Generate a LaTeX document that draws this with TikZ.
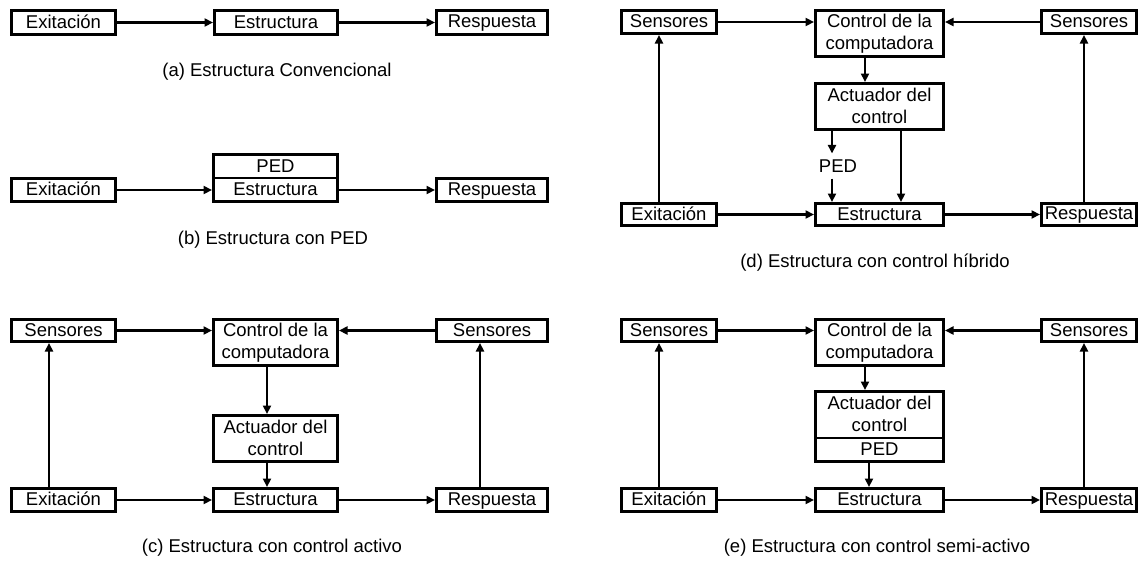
\documentclass[tikz,border=0pt]{standalone}
\usepackage{fontspec}
\setmainfont{Liberation Sans}
\usetikzlibrary{arrows.meta}
\newcommand{\topstr}{\rule{0pt}{14pt}}
\newcommand{\botstr}{\rule[-2.4pt]{0pt}{2.4pt}}
\newcommand{\mybox}[6]{\node[box, minimum width={#4-#2-2.8}, minimum height={#5-#3-2.8}] (#1) at ({#2},{#3}) {\topstr#6\botstr};}
\begin{document}
\begin{tikzpicture}[x=1pt,y=-1pt,
  box/.style={draw, line width=2.8pt, inner sep=0pt, anchor=north west, align=center, font=\fontsize{18.5}{22}\selectfont},
  conn/.style={line width=2.3pt, -{Triangle[length=8.5pt,width=8pt]}},
  capt/.style={inner sep=0pt, font=\fontsize{18.5}{22}\selectfont},
  lbl/.style={inner xsep=0pt, inner ysep=6pt, font=\fontsize{18.5}{22}\selectfont}]
\useasboundingbox[fill=white] (0,0) rectangle (1148,560);

% (a)
\mybox{a1}{10}{9}{117}{36}{Exitación}
\mybox{a2}{213}{9}{339}{36}{Estructura}
\mybox{a3}{435}{9}{549}{36}{Respuesta}
\draw[conn] (a1.east) -- (a1.east -| a2.west);
\draw[conn] (a2.east) -- (a2.east -| a3.west);
\node[capt] (ca) at (277,72) {(a) Estructura Convencional};

% (b)
\mybox{b1}{10}{177}{117}{203}{Exitación}
\mybox{bp}{212}{153}{339}{179.4}{PED}
\mybox{b2}{212}{176.6}{339}{203}{Estructura}
\mybox{b3}{435}{177}{549}{203}{Respuesta}
\draw[conn] (b1.east) -- (b1.east -| b2.west);
\draw[conn] (b1.east -| b2.east) -- (b1.east -| b3.west);
\node[capt] (cb) at (273,240) {(b) Estructura con PED};

% (c)
\mybox{csl}{10}{318}{117}{343}{Sensores}
\mybox{cctl}{212}{318}{339}{367}{Control de la\\computadora}
\mybox{csr}{435}{318}{549}{343}{Sensores}
\mybox{cact}{212}{414}{339}{463}{Actuador del\\control}
\mybox{cexi}{10}{487}{117}{513}{Exitación}
\mybox{cest}{212}{487}{339}{513}{Estructura}
\mybox{cres}{435}{487}{549}{513}{Respuesta}
\draw[conn] (csl.east) -- (csl.east -| cctl.west);
\draw[conn] (csr.west) -- (csr.west -| cctl.east);
\draw[conn] ([xshift=-8.5pt]cctl.south) -- ([xshift=-8.5pt]cact.north);
\draw[conn] ([xshift=-8.5pt]cact.south) -- ([xshift=-8.5pt]cest.north);
\draw[conn] (cexi.east) -- (cexi.east -| cest.west);
\draw[conn] (cest.east) -- (cest.east -| cres.west);
\draw[conn] ([xshift=-14.5pt]cexi.north) -- ([xshift=-14.5pt]csl.south);
\draw[conn] ([xshift=-12pt]cres.north) -- ([xshift=-12pt]csr.south);
\node[capt] (cc) at (272,548) {(c) Estructura con control activo};

% (d)
\mybox{dsl}{620}{9}{718}{35}{Sensores}
\mybox{dctl}{814}{9}{945}{58}{Control de la\\computadora}
\mybox{dsr}{1040}{9}{1138}{35}{Sensores}
\mybox{dact}{814}{82}{945}{131}{Actuador del\\control}
\mybox{dexi}{620}{202}{718}{227}{Exitación}
\mybox{dest}{814}{202}{945}{227}{Estructura}
\mybox{dres}{1040}{202}{1138}{227}{Respuesta}
\node[lbl] (dped) at (838,166) {PED};
\coordinate (dpx) at ([xshift=-6pt]dped.north);
\coordinate (dpy) at ([xshift=-6pt]dped.south);
\draw[conn] (dsl.east) -- (dsl.east -| dctl.west);
\draw[conn] (dsr.west) -- (dsr.west -| dctl.east);
\draw[conn] ([xshift=-14.5pt]dctl.south) -- ([xshift=-14.5pt]dact.north);
\draw[conn] (dact.south -| dpx) -- (dpx);
\draw[conn] (dpy) -- (dest.north -| dpy);
\draw[conn] ([xshift=21.5pt]dact.south) -- ([xshift=21.5pt]dest.north);
\draw[conn] (dexi.east) -- (dexi.east -| dest.west);
\draw[conn] (dest.east) -- (dest.east -| dres.west);
\draw[conn] ([xshift=-10pt]dexi.north) -- ([xshift=-10pt]dsl.south);
\draw[conn] ([xshift=-5pt]dres.north) -- ([xshift=-5pt]dsr.south);
\node[capt] (cd) at (875,263) {(d) Estructura con control híbrido};

% (e)
\mybox{esl}{620}{318}{718}{343}{Sensores}
\mybox{ectl}{814}{318}{945}{367}{Control de la\\computadora}
\mybox{esr}{1040}{318}{1138}{343}{Sensores}
\mybox{eact}{814}{390}{945}{439.4}{Actuador del\\control}
\mybox{eped}{814}{436.6}{945}{463}{PED}
\mybox{eexi}{620}{487}{718}{513}{Exitación}
\mybox{eest}{814}{487}{945}{513}{Estructura}
\mybox{eres}{1040}{487}{1138}{513}{Respuesta}
\draw[conn] (esl.east) -- (esl.east -| ectl.west);
\draw[conn] (esr.west) -- (esr.west -| ectl.east);
\draw[conn] ([xshift=-14.5pt]ectl.south) -- ([xshift=-14.5pt]eact.north);
\draw[conn] ([xshift=-10.5pt]eped.south) -- ([xshift=-10.5pt]eest.north);
\draw[conn] (eexi.east) -- (eexi.east -| eest.west);
\draw[conn] (eest.east) -- (eest.east -| eres.west);
\draw[conn] ([xshift=-10pt]eexi.north) -- ([xshift=-10pt]esl.south);
\draw[conn] ([xshift=-5pt]eres.north) -- ([xshift=-5pt]esr.south);
\node[capt] (ce) at (877,548) {(e) Estructura con control semi-activo};
\end{tikzpicture}
\end{document}
